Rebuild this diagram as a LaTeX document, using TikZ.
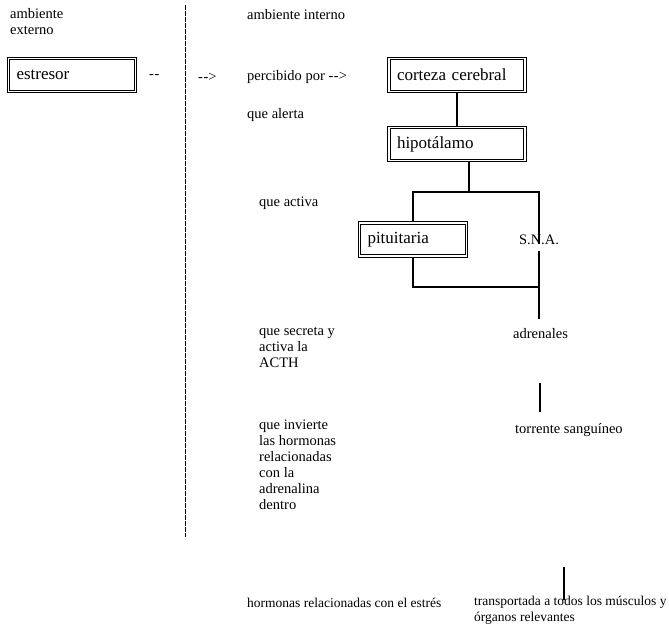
\documentclass[tikz,border=0pt]{standalone}
\usepackage{fontspec}
\setmainfont{Liberation Serif}
\usetikzlibrary{positioning}

\newcommand{\dsh}{-\kern0.6pt-}

\begin{document}
\begin{tikzpicture}[x=1pt, y=-1pt,
      txt/.style={font=\fontsize{14.5}{16}\selectfont, inner sep=0pt, anchor=west},
      blk/.style={txt, anchor=north west, align=left},
      low/.style={txt, font=\fontsize{13.5}{16}\selectfont},
      box/.style={draw, double, double distance=1.4pt, line width=1.1pt,
                  font=\fontsize{17}{17}\selectfont, text width=#1, align=left,
                  inner xsep=8pt, inner ysep=0pt, minimum height=33pt},
      link/.style={line width=1.2pt},
    ]
      \useasboundingbox (0,0) rectangle (669,637);

      % ambiente externo
      \node[blk] (ext) at (10,8) {ambiente\\externo};
      \node[box=111pt] (estresor) at (72,75) {estresor};
      \node[txt] (dsh1) at (149,77) {\dsh};

      \coordinate (divtop) at (185.5,5);
      \coordinate (divbot) at (185.5,537);
      \draw[line width=1.4pt, dash pattern=on 5pt off 1pt] (divtop) -- (divbot);

      % ambiente interno
      \node[txt] (dsh2) at (198,77) {\dsh>};
      \node[txt] (int)  at (247,15) {ambiente interno};
      \node[txt] (perc) at (247,77) {percibido por \dsh>};
      \node[txt] (alerta) at (247,115) {que alerta};
      \node[txt] (activa) at (259,203) {que activa};
      \node[blk] (secreta) at (259,327) {que secreta y\\activa la\\ACTH};
      \node[blk] (invierte) at (259,420) {que invierte\\las hormonas\\relacionadas\\con la\\adrenalina\\dentro};
      \node[low] (hormonas) at (247,603) {hormonas relacionadas con el estrés};

      \node[box=120pt] (corteza) at (457,75) {corteza cerebral};
      \node[box=120pt] (hipo) at (457,144) {hipotálamo};
      \node[box=91pt] (pit) at (413,239.5) {pituitaria};
      \node[txt, anchor=center] (sna) at (539,240) {S.N.A.};
      \node[txt] (adren) at (513,334) {adrenales};
      \node[txt] (torr) at (515,430) {torrente sanguíneo};
      \node[low, anchor=north west, align=left] (transp) at (474,596)
        {transportada a todos los músculos y\\órganos relevantes};

      \coordinate (fork) at (469,192);
      \coordinate (merge) at (539,287);
      \draw[link] (corteza) -- (hipo);
      \draw[link] (hipo.south -| fork) -- (fork);
      \draw[link] (pit) |- (fork) -| ([yshift=-9pt]sna.north);
      \draw[link] (pit) |- (merge);
      \draw[link, shorten <=6pt, shorten >=10pt] (sna.south) -- (sna.south |- adren.north);

      \coordinate (a1) at (540,383);
      \coordinate (a2) at (540,412);
      \draw[link] (a1) -- (a2);
      \coordinate (b1) at (564,567);
      \coordinate (b2) at (564,600);
      \draw[link] (b1) -- (b2);
    \end{tikzpicture}
\end{document}
